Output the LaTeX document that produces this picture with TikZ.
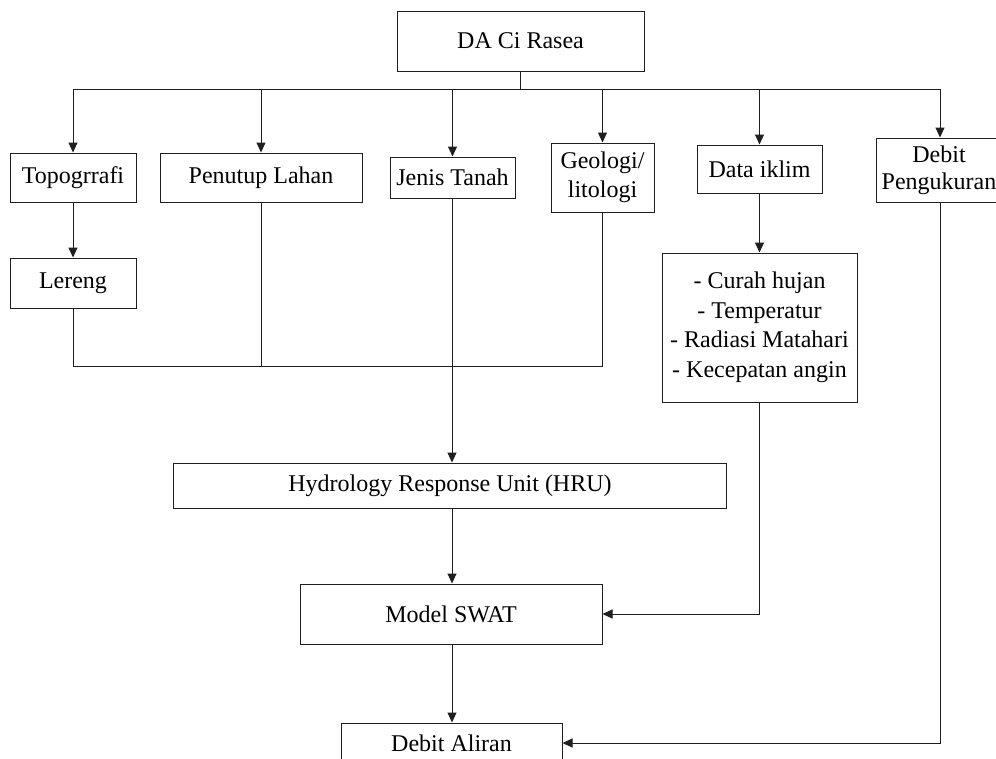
\documentclass[tikz,border=0pt]{standalone}
\usepackage{fontspec}
\setmainfont{Liberation Serif}
\usetikzlibrary{arrows.meta}
\begin{document}
\begin{tikzpicture}[x=1pt,y=-1pt,
  box/.style={draw=black!88,line width=1pt,inner sep=0pt,align=center,
    font=\fontsize{24}{28}\selectfont},
  wire/.style={draw=black!88,line width=1pt},
  arr/.style={wire,-{Triangle[length=10pt,width=9pt]}}]
\useasboundingbox (0,0) rectangle (996,758);
\fill[white] (0,0) rectangle (996,758);
% boxes
\node[box,minimum width=247pt,minimum height=60pt] (da) at (520.5,41) {DA Ci Rasea};
\node[box,minimum width=126pt,minimum height=49pt] (topo) at (73,177.5) {Topogrrafi};
\node[box,minimum width=202pt,minimum height=49pt] (penutup) at (261,177.5) {Penutup Lahan};
\node[box,minimum width=125pt,minimum height=41pt] (jenis) at (452.5,177.5) {Jenis Tanah};
\node[box,minimum width=103pt,minimum height=69pt,font=\fontsize{24}{29}\selectfont] (geo) at (602.5,177.5) {Geologi/\\litologi};
\node[box,minimum width=125pt,minimum height=48pt] (iklim) at (759.5,169) {Data iklim};
\node[box,minimum width=126pt,minimum height=64pt,font=\fontsize{24}{27}\selectfont] (debit) at (939,170) {Debit\\Pengukuran};
\node[box,minimum width=126pt,minimum height=50pt] (lereng) at (73,283) {Lereng};
\node[box,minimum width=195pt,minimum height=149pt,font=\fontsize{24}{29.5}\selectfont] (clim) at (759.5,327.5) {- Curah hujan\\- Temperatur\\- Radiasi Matahari\\- Kecepatan angin};
\node[box,minimum width=553pt,minimum height=45pt] (hru) at (450,485.5) {Hydrology Response Unit (HRU)};
\node[box,minimum width=302pt,minimum height=60pt] (swat) at (451,614) {Model SWAT};
\node[box,minimum width=221pt,minimum height=40pt] (aliran) at (451.5,743) {Debit Aliran};
% bus
\coordinate (busL) at (73,89);
\coordinate (busR) at (940,89);
\coordinate (join) at (0,366);
\coordinate (spine) at (452,0);
\draw[wire] (da.south) -- (da.south |- busL);
\draw[wire] (busL) -- (busR);
\draw[arr] (topo.north |- busL) -- (topo.north);
\draw[arr] (penutup.north |- busL) -- (penutup.north);
\draw[arr] (jenis.north |- busL) -- (jenis.north);
\draw[arr] (geo.north |- busL) -- (geo.north);
\draw[arr] (iklim.north |- busL) -- (iklim.north);
\draw[arr] (busR) -- (busR |- debit.north);
% left side
\draw[arr] (topo.south) -- (lereng.north);
\draw[wire] (lereng.south) -- (lereng.south |- join) -- (geo.south |- join) -- (geo.south);
\draw[wire] (penutup.south) -- (penutup.south |- join);
\draw[arr] (spine |- jenis.south) -- (spine |- hru.north);
\draw[arr] (spine |- hru.south) -- (spine |- swat.north);
\draw[arr] (spine |- swat.south) -- (spine |- aliran.north);
% right side
\draw[arr] (iklim.south) -- (clim.north);
\draw[arr] (clim.south) -- (clim.south |- swat.east) -- (swat.east);
\draw[arr] (busR |- debit.south) -- (busR |- aliran.east) -- (aliran.east);
\end{tikzpicture}
\end{document}
